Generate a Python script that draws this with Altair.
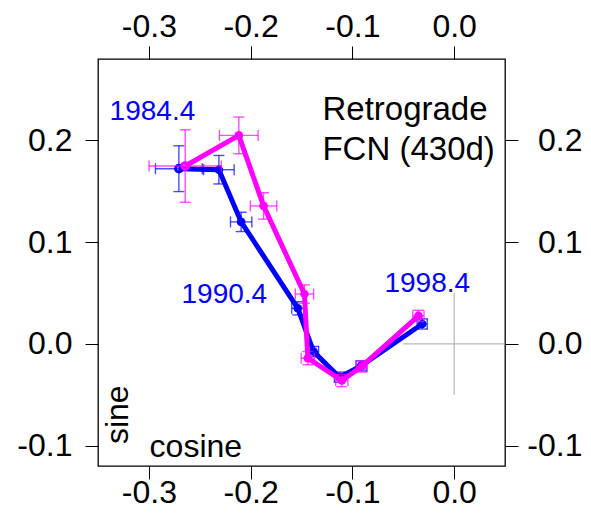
import altair as alt
import pandas as pd

# ---- data ----
blue_x  = [-0.2705, -0.2312, -0.2093, -0.1536, -0.1382, -0.1127, -0.0914, -0.0314]
blue_y  = [0.1722, 0.1712, 0.1199, 0.0350, -0.0075, -0.0327, -0.0216, 0.0196]
blue_ex = [0.0230, 0.0150, 0.0105, 0.0060, 0.0050, 0.0050, 0.0050, 0.0050]
blue_ey = [0.0225, 0.0140, 0.0095, 0.0065, 0.0050, 0.0050, 0.0050, 0.0050]

mag_x  = [-0.2643, -0.2116, -0.1873, -0.1471, -0.1438, -0.1104, -0.0908, -0.0351]
mag_y  = [0.1748, 0.2049, 0.1356, 0.0490, -0.0140, -0.0360, -0.0222, 0.0275]
mag_ex = [0.0355, 0.0190, 0.0130, 0.0090, 0.0065, 0.0060, 0.0055, 0.0055]
mag_ey = [0.0356, 0.0180, 0.0130, 0.0090, 0.0065, 0.0060, 0.0055, 0.0055]

x_ticks = [-0.3, -0.2, -0.1, 0.0]
y_ticks = [-0.1, 0.0, 0.1, 0.2]
x_domain = [-0.35, 0.05]
y_domain = [-0.12, 0.28]

year_labels = ["1984.4", "1990.4", "1998.4"]
year_lx = [-0.3386, -0.2679, -0.0685]
year_ly = [0.2196, 0.0402, 0.0510]

title_lines = ["Retrograde", "FCN (430d)"]
title_lx = [-0.1294, -0.1294]
title_ly = [0.2196, 0.1804]

cross_x1 = [-0.05, 0.0]
cross_x2 = [0.05, 0.0]
cross_y1 = [0.0, -0.05]
cross_y2 = [0.0, 0.05]

FONT = "Liberation Sans"
BLUE = "#0000FF"
MAG = "#FF00FF"

label_expr = "datum.value < 0 ? '-' + format(-datum.value, '.1f') : format(datum.value, '.1f')"

def axis(orient, pad, **kw):
    return alt.Axis(values=x_ticks if orient in ("top", "bottom") else y_ticks,
                    orient=orient, grid=False, domain=False, ticks=True,
                    tickSize=13, tickColor="black", tickWidth=1,
                    labelFont=FONT, labelFontSize=32, labelColor="black",
                    labelPadding=pad, labelExpr=label_expr, title=None,
                    labelFlush=False, labelOverlap=False, **kw)

xs = alt.Scale(domain=x_domain, nice=False, zero=False)
ys = alt.Scale(domain=y_domain, nice=False, zero=False)
xa = axis("bottom", -2)
ya = axis("left", 13)

def X(f):
    return alt.X(f, type="quantitative", scale=xs, axis=xa, title=None)

def Y(f):
    return alt.Y(f, type="quantitative", scale=ys, axis=ya, title=None)


def series_df(xv, yv, exv, eyv):
    return pd.DataFrame({"idx": list(range(len(xv))), "x": xv, "y": yv, "ex": exv, "ey": eyv})

layers = []
for (xv, yv, exv, eyv, col) in [(blue_x, blue_y, blue_ex, blue_ey, BLUE),
                                (mag_x, mag_y, mag_ex, mag_ey, MAG)]:
    base = alt.Chart(series_df(xv, yv, exv, eyv)).transform_calculate(
        xl="datum.x - datum.ex", xr="datum.x + datum.ex",
        yl="datum.y - datum.ey", yh="datum.y + datum.ey")
    layers.append(base.mark_rule(color=col, strokeWidth=1.4, opacity=0.7).encode(
        x=X("xl"), x2="xr", y=Y("y")))
    layers.append(base.mark_rule(color=col, strokeWidth=1.4, opacity=0.7).encode(
        x=X("x"), y=Y("yl"), y2="yh"))
    for fx in ["xl", "xr"]:
        layers.append(base.mark_tick(color=col, orient="vertical", size=11,
                                     thickness=1.4, opacity=0.7).encode(x=X(fx), y=Y("y")))
    for fy in ["yl", "yh"]:
        layers.append(base.mark_tick(color=col, orient="horizontal", size=11,
                                     thickness=1.4, opacity=0.7).encode(x=X("x"), y=Y(fy)))
    layers.append(base.mark_line(color=col, strokeWidth=5).encode(
        x=X("x"), y=Y("y"), order="idx:Q"))
    layers.append(base.transform_filter("datum.idx > 0").mark_circle(
        color=col, size=75, opacity=1).encode(x=X("x"), y=Y("y")))
    layers.append(base.transform_filter("datum.idx == 0").mark_point(
        color=col, size=45, strokeWidth=3, filled=False, opacity=1).encode(x=X("x"), y=Y("y")))

year_df = pd.DataFrame({"t": year_labels, "x": year_lx, "y": year_ly})
layers.append(alt.Chart(year_df).mark_text(font=FONT, fontSize=28, color=BLUE,
                                           align="left", baseline="alphabetic").encode(
    x=X("x"), y=Y("y"), text="t:N"))

title_df = pd.DataFrame({"t": title_lines, "x": title_lx, "y": title_ly})
layers.append(alt.Chart(title_df).mark_text(font=FONT, fontSize=33, color="black",
                                            align="left", baseline="alphabetic").encode(
    x=X("x"), y=Y("y"), text="t:N"))

cos_df = pd.DataFrame({"t": ["cosine"], "x": [-0.2993], "y": [-0.1108]})
layers.append(alt.Chart(cos_df).mark_text(font=FONT, fontSize=32, color="black",
                                          align="left", baseline="alphabetic").encode(
    x=X("x"), y=Y("y"), text="t:N"))

sin_df = pd.DataFrame({"t": ["sine"], "x": [-0.3209], "y": [-0.0696]})
layers.append(alt.Chart(sin_df).mark_text(font=FONT, fontSize=32, color="black",
                                          align="center", baseline="alphabetic",
                                          angle=270).encode(
    x=X("x"), y=Y("y"), text="t:N"))

main = alt.layer(*layers)

cross_df = pd.DataFrame({"x1": cross_x1, "x2": cross_x2, "y1": cross_y1, "y2": cross_y2})
cross = alt.Chart(cross_df).mark_rule(color="#aaaaaa", strokeWidth=1).encode(
    x=alt.X("x1:Q", scale=xs, axis=axis("top", 3), title=None),
    x2="x2",
    y=alt.Y("y1:Q", scale=ys, axis=axis("right", 64, labelAlign="right"), title=None),
    y2="y2")

chart = alt.layer(cross, main).resolve_scale(x="independent", y="independent").properties(
    width=407, height=407,
    autosize=alt.AutoSizeParams(type="none"),
    padding={"left": 90, "top": 51, "right": 78, "bottom": 47},
).configure_view(stroke="black", strokeWidth=1.3)

chart.save("out.html", embed_options={"renderer": "svg", "actions": False})
